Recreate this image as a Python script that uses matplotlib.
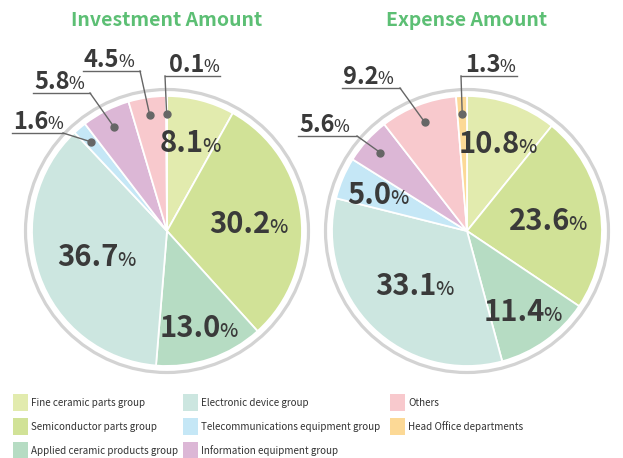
import matplotlib
matplotlib.use('Agg')

import matplotlib.pyplot as plt
from matplotlib.patches import Circle, Rectangle
import numpy as np

# Data
categories = [
    "Fine ceramic parts group",
    "Semiconductor parts group",
    "Applied ceramic products group",
    "Electronic device group",
    "Telecommunications equipment group",
    "Information equipment group",
    "Others",
    "Head Office departments",
]
investment = [8.1, 30.2, 13.0, 36.7, 1.6, 5.8, 4.5, 0.1]
expense = [10.8, 23.6, 11.4, 33.1, 5.0, 5.6, 9.2, 1.3]
titles = ["Investment Amount", "Expense Amount"]

colors = ["#e2ebae", "#d1e297", "#b6dcc3", "#cce6e0",
          "#c5e7f6", "#dcb7d6", "#f8c9cd", "#fcd996"]

W, H = 623, 458
FONT = "Noto Sans CJK JP"
TEXT_C = "#3a3a3a"
LINE_C = "#666666"
GREEN = "#5cbf74"
R = 135

plt.rcParams['font.family'] = [FONT, 'DejaVu Sans']

fig = plt.figure(figsize=(W / 100, H / 100), dpi=100)
ax = fig.add_axes([0, 0, 1, 1])
renderer = fig.canvas.get_renderer()


def py(y):
    # pixel row (from top) -> data y (from bottom)
    return H - y


def pct_label(x, y, num, size, psize, center=True):
    """number + smaller % sign, x,y = centre (or left, baseline)"""
    t1 = ax.text(x, y, num, fontsize=size, fontweight='bold', color=TEXT_C,
                 va='baseline', ha='left')
    t2 = ax.text(x, y, "%", fontsize=psize, fontweight='medium', color=TEXT_C,
                 va='baseline', ha='left')
    w1 = t1.get_window_extent(renderer).width
    w2 = t2.get_window_extent(renderer).width
    x0 = x - (w1 + w2) / 2 if center else x
    t1.set_x(x0)
    t2.set_x(x0 + w1 - 1.5)


# pie layout: centre, radius factor of inner labels, outside labels
pies = [
    {
        "values": investment,
        "center": (167, 231),
        "inner_r": [0.69, 0.61, 0.74, 0.55, None, None, None, None],
        # idx: (elbow x, elbow y, other end of underline x)
        "outer": {4: (63, 133, 12), 5: (90, 93, 33), 6: (140, 71, 83), 7: (165, 76, 220)},
    },
    {
        "values": expense,
        "center": (467, 231),
        "inner_r": [0.70, 0.61, 0.72, 0.55, 0.71, None, None, None],
        "outer": {5: (357, 136, 298), 6: (400, 88, 342), 7: (461, 76, 517)},
    },
]

for p, title in zip(pies, titles):
    cx, cy = p["center"][0], py(p["center"][1])
    wedges, _ = ax.pie(p["values"], colors=colors, startangle=90, counterclock=False,
                       radius=R, center=(cx, cy),
                       wedgeprops=dict(edgecolor='white', linewidth=1.3))
    ax.add_patch(Circle((cx, cy), R + 6.5, fill=False, edgecolor="#d3d3d3", linewidth=2.3))
    ax.text(cx, py(20), title, fontsize=14, fontweight='bold', color=GREEN,
            ha='center', va='center')

    for i, (w, v) in enumerate(zip(wedges, p["values"])):
        mid = np.deg2rad((w.theta1 + w.theta2) / 2)
        fr = p["inner_r"][i]
        if fr is not None:
            lx = cx + fr * R * np.cos(mid)
            ly = cy + fr * R * np.sin(mid)
            pct_label(lx, ly - 11, f"{v:.1f}", 21, 14)
        if i in p["outer"]:
            ex, ey, ox = p["outer"][i]
            dx = cx + 0.865 * R * np.cos(mid)
            dy = cy + 0.865 * R * np.sin(mid)
            ax.plot([dx, ex], [dy, py(ey)], color=LINE_C, lw=1.0, zorder=5)
            ax.plot([ex, ox], [py(ey), py(ey)], color=LINE_C, lw=1.0, zorder=5)
            ax.plot(dx, dy, 'o', color=LINE_C, ms=5, zorder=6)
            left = min(ex, ox)
            off = 4 if ox > ex else 1
            pct_label(left + off, py(ey) + 4, f"{v:.1f}", 17, 12, center=False)

# legend - size the text so the longest name fits its column
col_x = [13, 183, 390]
row_y = [403, 427, 451]
probe = ax.text(0, 0, categories[4], fontsize=10)
leg_size = min(10 * 180 / probe.get_window_extent(renderer).width, 10)
probe.remove()

for i, (name, c) in enumerate(zip(categories, colors)):
    x = col_x[i // 3]
    y = py(row_y[i % 3])
    ax.add_patch(Rectangle((x, y - 8), 15, 17, facecolor=c, edgecolor='none'))
    ax.text(x + 18, y, name, fontsize=leg_size, color="#333333",
            ha='left', va='center')

ax.set_xlim(0, W)
ax.set_ylim(0, H)
ax.set_aspect('auto')
ax.axis('off')

fig.savefig('out.png', dpi=100)
